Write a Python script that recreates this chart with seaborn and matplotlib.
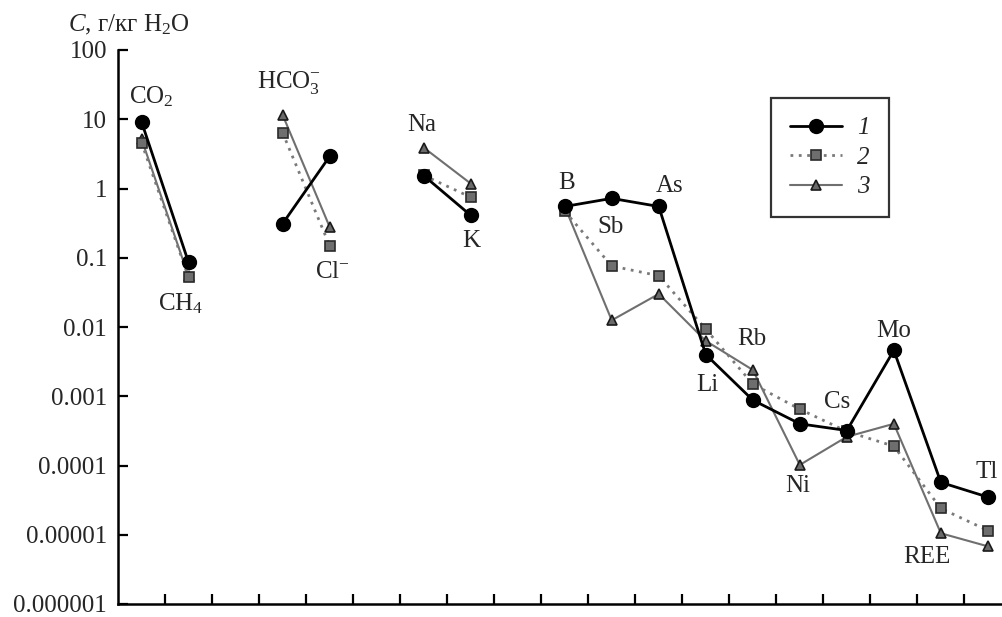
import numpy as np
import pandas as pd
import matplotlib
matplotlib.use("Agg")
import matplotlib.pyplot as plt
from matplotlib.ticker import FixedLocator, FixedFormatter, NullFormatter
import seaborn as sns

# ---------------- data ----------------
groups = [
    ["CO2", "CH4"],
    ["HCO3", "Cl"],
    ["Na", "K"],
    ["B", "Sb", "As", "Li", "Rb", "Ni", "Cs", "Mo", "REE", "Tl"],
]
categories = [c for g in groups for c in g]

series1 = [9.2, 0.086, 0.31, 2.9, 1.54, 0.41, 0.55, 0.72, 0.55, 0.0040,
           0.00088, 0.00040, 0.00032, 0.0046, 0.000057, 0.000035]
series2 = [4.6, 0.052, 6.4, 0.15, 1.55, 0.75, 0.47, 0.076, 0.055, 0.0093,
           0.0015, 0.00065, 0.00031, 0.00019, 0.000024, 0.0000115]
series3 = [5.2, 0.054, 11.6, 0.28, 3.9, 1.18, 0.55, 0.0125, 0.030, 0.0063,
           0.0024, 0.000102, 0.00026, 0.00040, 0.0000105, 0.0000068]
series_names = ["1", "2", "3"]

ytick_values = [1e-6, 1e-5, 1e-4, 1e-3, 1e-2, 1e-1, 1, 10, 100]
ytick_labels = ["0.000001", "0.00001", "0.0001", "0.001", "0.01", "0.1", "1", "10", "100"]

point_labels = {
    "CO2": r"CO$_2$", "CH4": r"CH$_4$", "HCO3": r"HCO$_3^{-}$", "Cl": r"Cl$^{-}$",
    "Na": "Na", "K": "K", "B": "B", "Sb": "Sb", "As": "As", "Li": "Li",
    "Rb": "Rb", "Ni": "Ni", "Cs": "Cs", "Mo": "Mo", "REE": "REE", "Tl": "Tl",
}

# ---------------- positions (slot layout with one empty slot between groups) ----------------
xpos = {}
slot = 0
for g in groups:
    for c in g:
        xpos[c] = slot
        slot += 1
    slot += 1

rows = []
for name, vals in zip(series_names, [series1, series2, series3]):
    for c, v in zip(categories, vals):
        gi = [i for i, g in enumerate(groups) if c in g][0]
        rows.append({"series": name, "cat": c, "x": xpos[c], "y": v, "group": gi})
df = pd.DataFrame(rows)

# ---------------- style ----------------
sns.set_style("ticks")
plt.rcParams["font.family"] = ["Liberation Serif", "DejaVu Serif"]
plt.rcParams["mathtext.fontset"] = "custom"
plt.rcParams["mathtext.rm"] = "Liberation Serif"
plt.rcParams["mathtext.it"] = "Liberation Serif:italic"
plt.rcParams["mathtext.bf"] = "Liberation Serif:bold"

FS = 18

fig = plt.figure(figsize=(10.03, 6.17), dpi=100)
ax = fig.add_axes([118 / 1003, 13 / 617, 884 / 1003, 554 / 617])

styles = {
    "1": dict(color="black", lw=2.0, ls="-", marker="o", ms=10, mfc="black", mec="black", mew=1.0, zorder=5),
    "2": dict(color="#7a7a7a", lw=2.0, ls=(0, (1, 2)), marker="s", ms=6.5, mfc="#6e6e6e", mec="#2a2a2a", mew=1.2, zorder=4),
    "3": dict(color="#6f6f6f", lw=1.5, ls="-", marker="^", ms=7, mfc="#6a6a6a", mec="#1a1a1a", mew=1.2, zorder=3),
}

for name in series_names:
    st = styles[name]
    sub = df[df["series"] == name]
    for gi, gdf in sub.groupby("group"):
        sns.lineplot(data=gdf, x="x", y="y", ax=ax, estimator=None, sort=False,
                     color=st["color"], linewidth=st["lw"], linestyle=st["ls"],
                     marker=st["marker"], markersize=st["ms"], markerfacecolor=st["mfc"],
                     markeredgecolor=st["mec"], markeredgewidth=st["mew"],
                     zorder=st["zorder"], label=(name if gi == 0 else None), legend=False)

ax.set_yscale("log")
ax.set_ylim(1e-6, 100)
ax.set_xlim(-0.5, 18.3)

ax.yaxis.set_major_locator(FixedLocator(ytick_values))
ax.yaxis.set_major_formatter(FixedFormatter(ytick_labels))
ax.yaxis.set_minor_locator(FixedLocator([]))
ax.set_xticks(np.arange(0.5, 18, 1.0))
ax.xaxis.set_major_formatter(NullFormatter())

ax.tick_params(axis="both", direction="in", length=7, width=1.6, color="black")
ax.tick_params(axis="y", labelsize=FS, pad=8)
ax.tick_params(axis="x", pad=0)
for s in ["top", "right"]:
    ax.spines[s].set_visible(False)
for s in ["left", "bottom"]:
    ax.spines[s].set_linewidth(1.8)
    ax.spines[s].set_color("black")
ax.set_xlabel("")
ax.set_ylabel("")

# y-axis title
fig.text(68 / 1003, 1 - 25 / 617, r"$C$, г/кг H$_2$O", fontsize=FS, ha="left", va="center")

# point labels (positions in data coordinates)
label_pos = {
    "CO2": (0.20, 21), "CH4": (0.84, 0.0214), "HCO3": (3.14, 33.5), "Cl": (4.07, 0.0617),
    "Na": (5.95, 8.3), "K": (7.01, 0.173), "B": (9.03, 1.22), "Sb": (9.97, 0.275),
    "As": (11.24, 1.07), "Li": (12.03, 0.00146), "Rb": (12.97, 0.00676), "Ni": (13.95, 5.1e-5),
    "Cs": (14.8, 0.00083), "Mo": (15.99, 0.0087), "REE": (16.71, 4.8e-6), "Tl": (17.98, 8.1e-5),
}
for c, (lx, ly) in label_pos.items():
    ax.text(lx, ly, point_labels[c], fontsize=FS, ha="center", va="center", zorder=10)

# legend
handles, labels = ax.get_legend_handles_labels()
leg = ax.legend(handles, labels, loc="upper left",
                bbox_to_anchor=((771 - 118) / 884, 1 - (98 - 50) / 554),
                frameon=True, fancybox=False, edgecolor="black", fontsize=FS,
                handlelength=2.1, handletextpad=0.6, labelspacing=0.28,
                borderpad=0.75, borderaxespad=0)
leg.get_frame().set_linewidth(1.6)
for t in leg.get_texts():
    t.set_fontstyle("italic")

fig.savefig("out.png", dpi=100)
